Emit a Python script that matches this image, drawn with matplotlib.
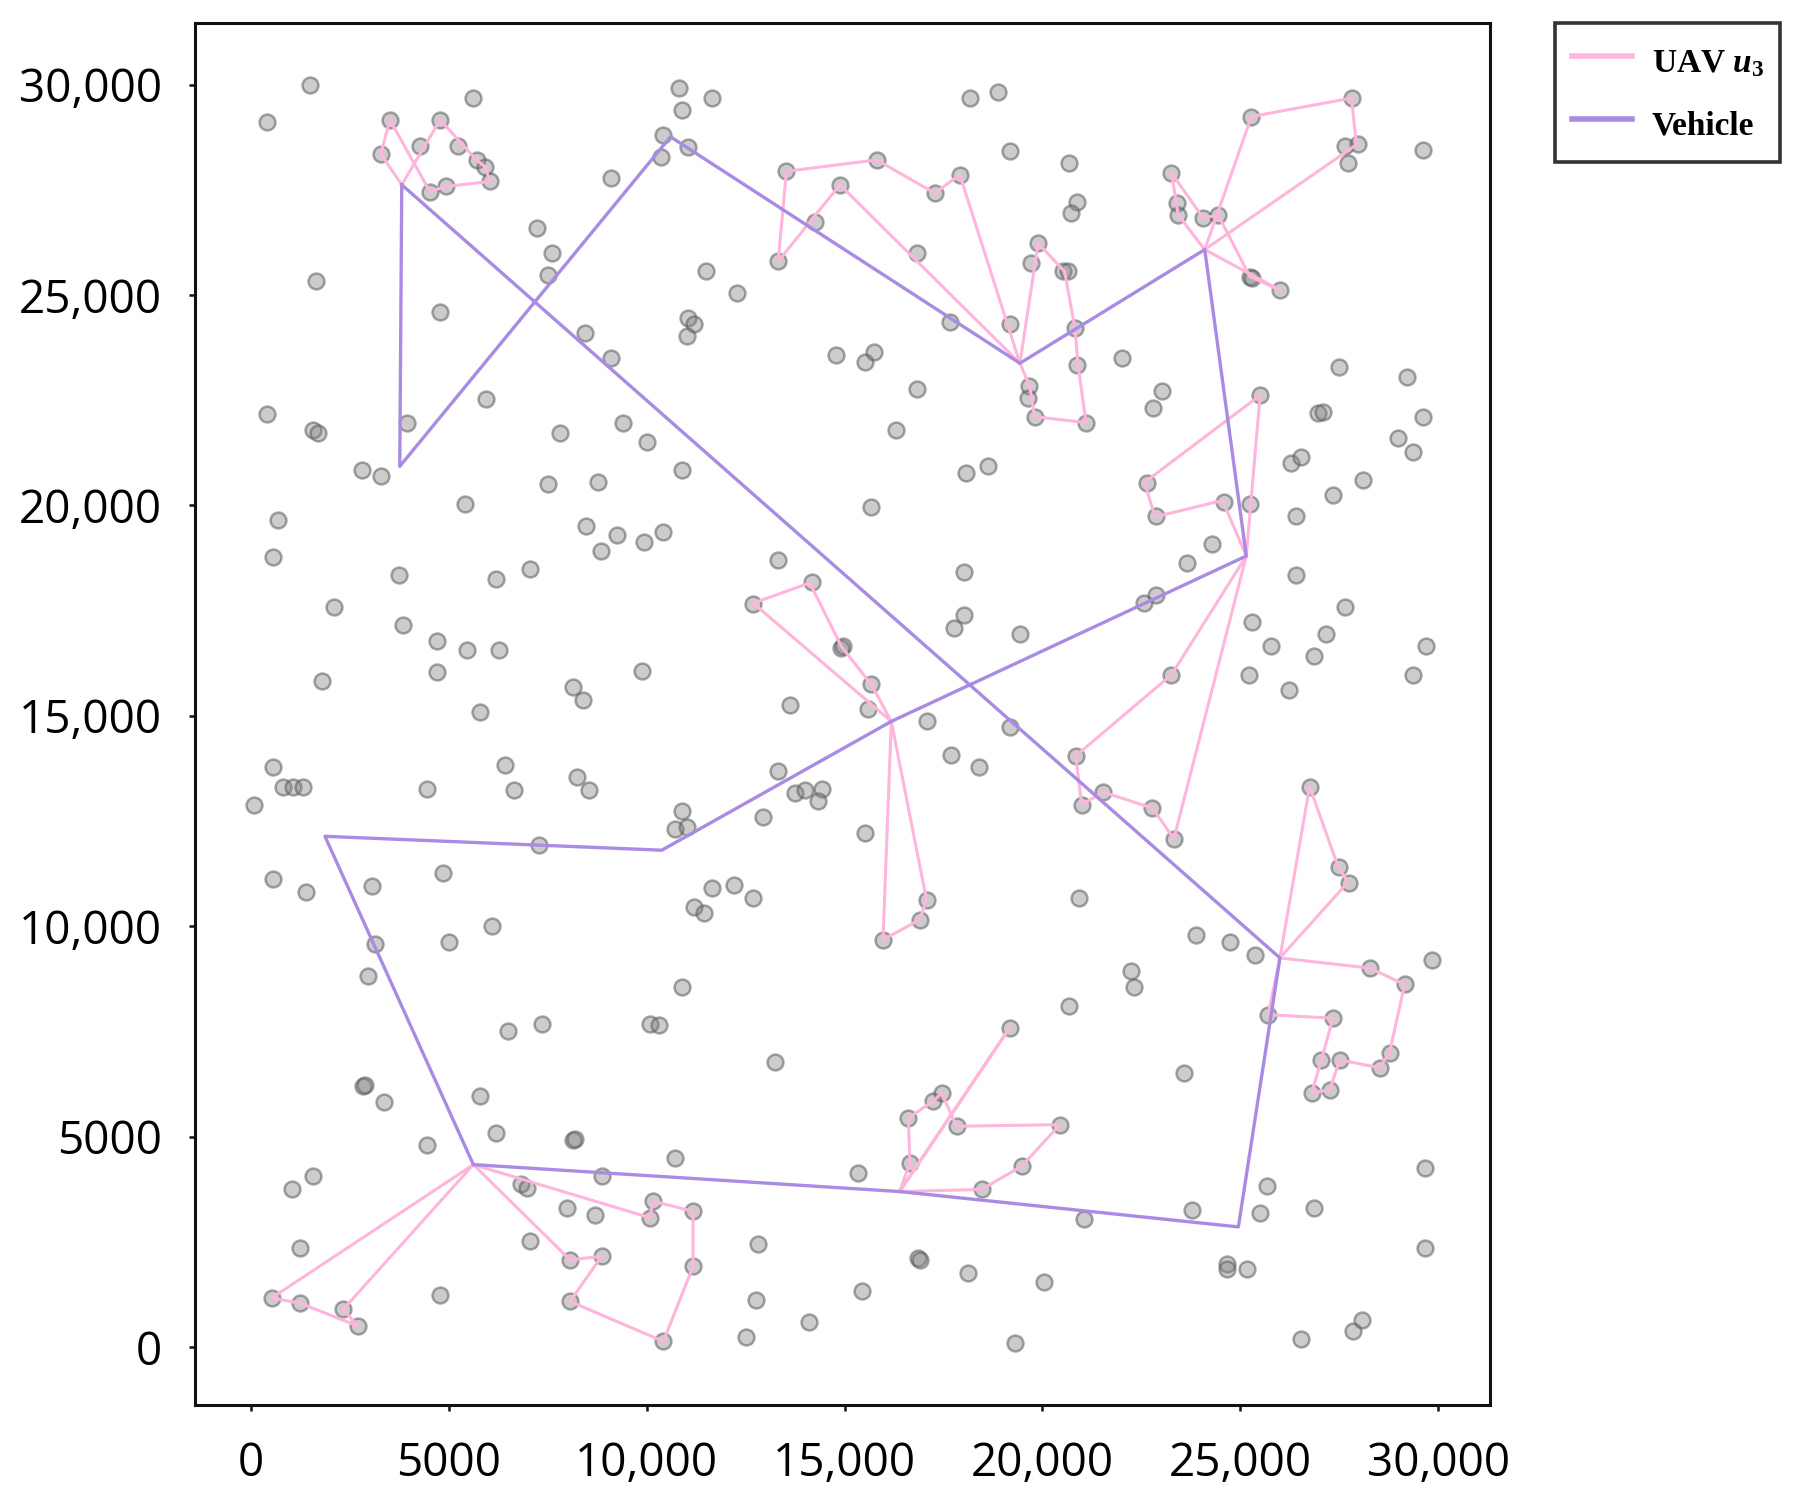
"""Vehicle + UAV delivery routes over customer locations."""

import matplotlib.pyplot as plt
from matplotlib.ticker import FixedLocator

# customer locations (m)
cust_x = [
    400, 1500, 3280, 3510, 4280, 4780, 5240, 4520, 4940, 5700, 5910, 6040, 5620, 1640, 4780,
    3930, 5950, 400, 1570, 1700, 2800, 3280, 690, 550, 2100, 3750, 3830, 4690, 4690, 5470,
    6260, 5790, 6180, 5410, 1800, 7220, 7600, 7510, 8450, 9090, 7820, 7510, 8770, 8460, 8840,
    9240, 9390, 10010, 9090, 7050, 9930, 10420, 10810, 10880, 11660, 10420, 10350, 11050, 18160, 18870,
    19180, 20670, 20860, 20730, 14240, 16830, 11510, 12290, 11050, 11190, 11030, 14790, 15510, 15750, 17660,
    19170, 19720, 20530, 20640, 20860, 16830, 16290, 19660, 19640, 19800, 10880, 18080, 18630, 14880, 13320,
    13530, 15810, 17280, 17910, 19890, 20820, 21100, 29620, 27720, 27640, 27970, 27810, 25280, 23260, 23390,
    23430, 24060, 24440, 25240, 25300, 26000, 22000, 23030, 22800, 25490, 27490, 29210, 29620, 26960, 27090,
    28990, 29360, 26290, 26540, 28100, 22640, 27340, 22860, 24580, 25240, 26400, 24290, 23650, 22860, 22560,
    26400, 27640, 25300, 27170, 25770, 26860, 29680, 29360, 25220, 26220, 23260, 20840, 20990, 21530, 22780,
    23320, 26770, 27490, 27750, 20920, 23890, 24730, 25360, 29830, 15660, 13320, 14170, 12690, 18010, 18010,
    17760, 19430, 14900, 14960, 9870, 15660, 15580, 13620, 17070, 19170, 17700, 18400, 13320, 13740, 13990,
    14420, 14330, 10880, 10710, 11010, 12930, 15510, 11660, 12210, 12690, 11190, 11440, 17070, 16900, 15970,
    8140, 8380, 550, 820, 1070, 1320, 80, 4450, 6420, 6650, 8230, 8550, 7280, 550, 1390,
    3050, 4860, 6100, 5010, 3130, 2960, 6500, 7360, 2840, 2880, 3360, 5790, 6180, 4460, 8140,
    8180, 10080, 10300, 10890, 13230, 19170, 20670, 22230, 22320, 23570, 28270, 29150, 28770, 28520, 27510,
    27260, 26800, 27050, 27340, 25700, 16650, 16610, 17240, 17450, 17830, 20440, 19470, 18460, 10710, 15340,
    15430, 14100, 12510, 12770, 12820, 16850, 16910, 18120, 19310, 20030, 21050, 23770, 24670, 24670, 25160,
    25500, 25680, 26520, 26870, 27850, 28080, 29670, 29670, 1570, 1030, 1240, 520, 1240, 2330, 2710,
    4770, 6830, 6970, 8860, 7980, 8690, 7050, 8060, 8860, 8060, 10420, 11170, 11170, 10160, 10080,
]
cust_y = [
    29100, 30000, 28350, 29160, 28530, 29160, 28550, 27460, 27580, 28210, 28050, 27700, 29680, 25330, 24590,
    21950, 22530, 22170, 21800, 21720, 20850, 20690, 19660, 18770, 17600, 18340, 17150, 16790, 16050, 16570,
    16570, 15100, 18260, 20030, 15840, 26590, 25990, 25480, 24090, 23500, 21720, 20500, 20550, 19520, 18930,
    19300, 21960, 21520, 27780, 18490, 19140, 19370, 29910, 29400, 29670, 28810, 28290, 28520, 29670, 29830,
    28430, 28130, 27220, 26960, 26740, 26000, 25560, 25040, 24450, 24320, 24020, 23580, 23420, 23640, 24370,
    24320, 25760, 25560, 25560, 23340, 22760, 21800, 22830, 22550, 22110, 20850, 20770, 20930, 27620, 25800,
    27940, 28210, 27420, 27860, 26230, 24210, 21970, 28450, 28130, 28530, 28590, 29680, 29240, 27900, 27180,
    26900, 26830, 26900, 25440, 25400, 25120, 23500, 22710, 22310, 22630, 23280, 23060, 22110, 22190, 22230,
    21600, 21280, 21010, 21150, 20600, 20530, 20250, 19740, 20090, 20040, 19740, 19090, 18630, 17880, 17680,
    18340, 17600, 17230, 16940, 16650, 16430, 16650, 15980, 15980, 15620, 15980, 14050, 12890, 13190, 12810,
    12080, 13320, 11420, 11030, 10670, 9800, 9640, 9330, 9210, 19960, 18710, 18190, 17670, 18410, 17390,
    17090, 16950, 16610, 16660, 16060, 15760, 15160, 15250, 14890, 14730, 14080, 13790, 13700, 13180, 13250,
    13260, 12970, 12750, 12310, 12370, 12600, 12230, 10910, 10990, 10670, 10460, 10320, 10630, 10160, 9680,
    15690, 15390, 13780, 13320, 13320, 13320, 12890, 13260, 13840, 13250, 13560, 13250, 11940, 11120, 10820,
    10970, 11270, 10020, 9640, 9580, 8830, 7510, 7670, 6200, 6230, 5820, 5960, 5080, 4800, 4930,
    4960, 7670, 7650, 8550, 6780, 7590, 8110, 8930, 8550, 6510, 9010, 8620, 7000, 6640, 6830,
    6120, 6040, 6830, 7820, 7900, 4380, 5450, 5850, 6040, 5250, 5290, 4300, 3750, 4500, 4140,
    1330, 600, 240, 1120, 2450, 2120, 2070, 1770, 110, 1550, 3050, 3270, 1990, 1850, 1850,
    3190, 3840, 190, 3320, 380, 650, 4270, 2370, 4060, 3750, 2360, 1170, 1050, 900, 500,
    1250, 3870, 3790, 4060, 3310, 3150, 2520, 2080, 2160, 1090, 140, 1920, 3230, 3470, 3080,
]

# vehicle tour (closed)
vehicle_x = [3810, 3760, 10600, 19430, 24100, 25150, 16180, 10380, 1870, 5620, 16390, 24950, 26000, 3810]
vehicle_y = [27620, 20930, 28760, 23380, 26080, 18800, 14870, 11810, 12140, 4340, 3700, 2860, 9250, 27620]

# UAV u3 sorties, each launched and recovered at a vehicle stop
uav_sorties = [
    [(3810, 27620), (3280, 28350), (3510, 29160), (4520, 27460), (4940, 27580), (6040, 27700),
     (5910, 28050), (5700, 28210), (4780, 29160), (3810, 27620)],
    [(19430, 23380), (14880, 27620), (13320, 25800), (13530, 27940), (15810, 28210), (17280, 27420),
     (17910, 27860), (19430, 23380)],
    [(19430, 23380), (19890, 26230), (20560, 25560), (20820, 24210), (20900, 23330), (21100, 21970),
     (19800, 22110), (19680, 22830), (19430, 23380)],
    [(24100, 26080), (23430, 26900), (23260, 27900), (24060, 26830), (24440, 26900), (25240, 25440),
     (26000, 25120), (24100, 26080)],
    [(24100, 26080), (25280, 29240), (27810, 29680), (27930, 28570), (24100, 26080)],
    [(25150, 18800), (25500, 22620), (22580, 20550), (22840, 19730), (24550, 20120), (25150, 18800)],
    [(25150, 18800), (23260, 15980), (20840, 14050), (20990, 12890), (21530, 13190), (22780, 12810),
     (23320, 12080), (25150, 18800)],
    [(16180, 14870), (15680, 15740), (14920, 16650), (14120, 18160), (12690, 17680), (16180, 14870)],
    [(16180, 14870), (17070, 10630), (16900, 10160), (15970, 9680), (16180, 14870)],
    [(5620, 4340), (520, 1170), (1240, 1050), (2710, 500), (2330, 900), (5620, 4340)],
    [(5620, 4340), (8060, 2080), (8860, 2160), (8060, 1090), (10420, 140), (11170, 1920),
     (11170, 3230), (10160, 3470), (10080, 3080), (5620, 4340)],
    [(16390, 3700), (19170, 7590), (16390, 3700)],
    [(16390, 3700), (16650, 4380), (16610, 5450), (17240, 5850), (17450, 6040), (17830, 5250),
     (20440, 5290), (19470, 4300), (18460, 3750), (16390, 3700)],
    [(26000, 9250), (26750, 13320), (27470, 11420), (27720, 11050), (26000, 9250)],
    [(26000, 9250), (28270, 9010), (29150, 8620), (28770, 7000), (28520, 6640), (27510, 6830),
     (27260, 6120), (26800, 6040), (27050, 6830), (27340, 7820), (25700, 7900), (26000, 9250)],
]

tick_vals = [0, 5000, 10000, 15000, 20000, 25000, 30000]
tick_labels = ["0", "5000", "10,000", "15,000", "20,000", "25,000", "30,000"]

UAV_COLOR = "#ffb5dc"
VEH_COLOR = "#a98be3"

plt.rcParams["mathtext.fontset"] = "custom"
plt.rcParams["mathtext.it"] = "Liberation Serif:italic:bold"
plt.rcParams["mathtext.rm"] = "Liberation Serif:bold"

fig = plt.figure(figsize=(17.97, 15.06), dpi=100)
ax = fig.add_axes([0.1085, 0.0671, 0.7207, 0.9177])

ax.scatter(cust_x, cust_y, s=130, facecolors=(0.5, 0.5, 0.5, 0.40),
           edgecolors=(0.36, 0.36, 0.36, 0.55), linewidths=1.8, zorder=2)

for k, sortie in enumerate(uav_sorties):
    xs = [p[0] for p in sortie]
    ys = [p[1] for p in sortie]
    ax.plot(xs, ys, color=UAV_COLOR, lw=2.2, zorder=3,
            label=r"UAV $u_3$" if k == 0 else None)
ax.plot(vehicle_x, vehicle_y, color=VEH_COLOR, lw=2.4, zorder=4, label="Vehicle")

ax.set_xlim(-1415, 31310)
ax.set_ylim(-1370, 31466)
ax.xaxis.set_major_locator(FixedLocator(tick_vals))
ax.yaxis.set_major_locator(FixedLocator(tick_vals))
ax.set_xticklabels(tick_labels, fontfamily="Open Sans", fontsize=33)
ax.set_yticklabels(tick_labels, fontfamily="Open Sans", fontsize=33)
ax.tick_params(axis="both", length=4, width=1.8, color="#111111")
ax.tick_params(axis="x", pad=22)
ax.tick_params(axis="y", pad=20)
for sp in ax.spines.values():
    sp.set_linewidth(2.2)
    sp.set_color("#111111")

leg = fig.legend(loc="upper left", bbox_to_anchor=(1555 / 1797, 1 - 23 / 1506),
                 frameon=True, fancybox=False, edgecolor="black", borderaxespad=0,
                 handlelength=1.8, handletextpad=0.6, handleheight=1.6,
                 labelspacing=0.6, borderpad=0.5,
                 prop={"family": "Liberation Serif", "weight": "bold", "size": 24})
leg.get_frame().set_linewidth(2.6)
for line in leg.get_lines():
    line.set_linewidth(4)

fig.savefig("out.png", dpi=100)
